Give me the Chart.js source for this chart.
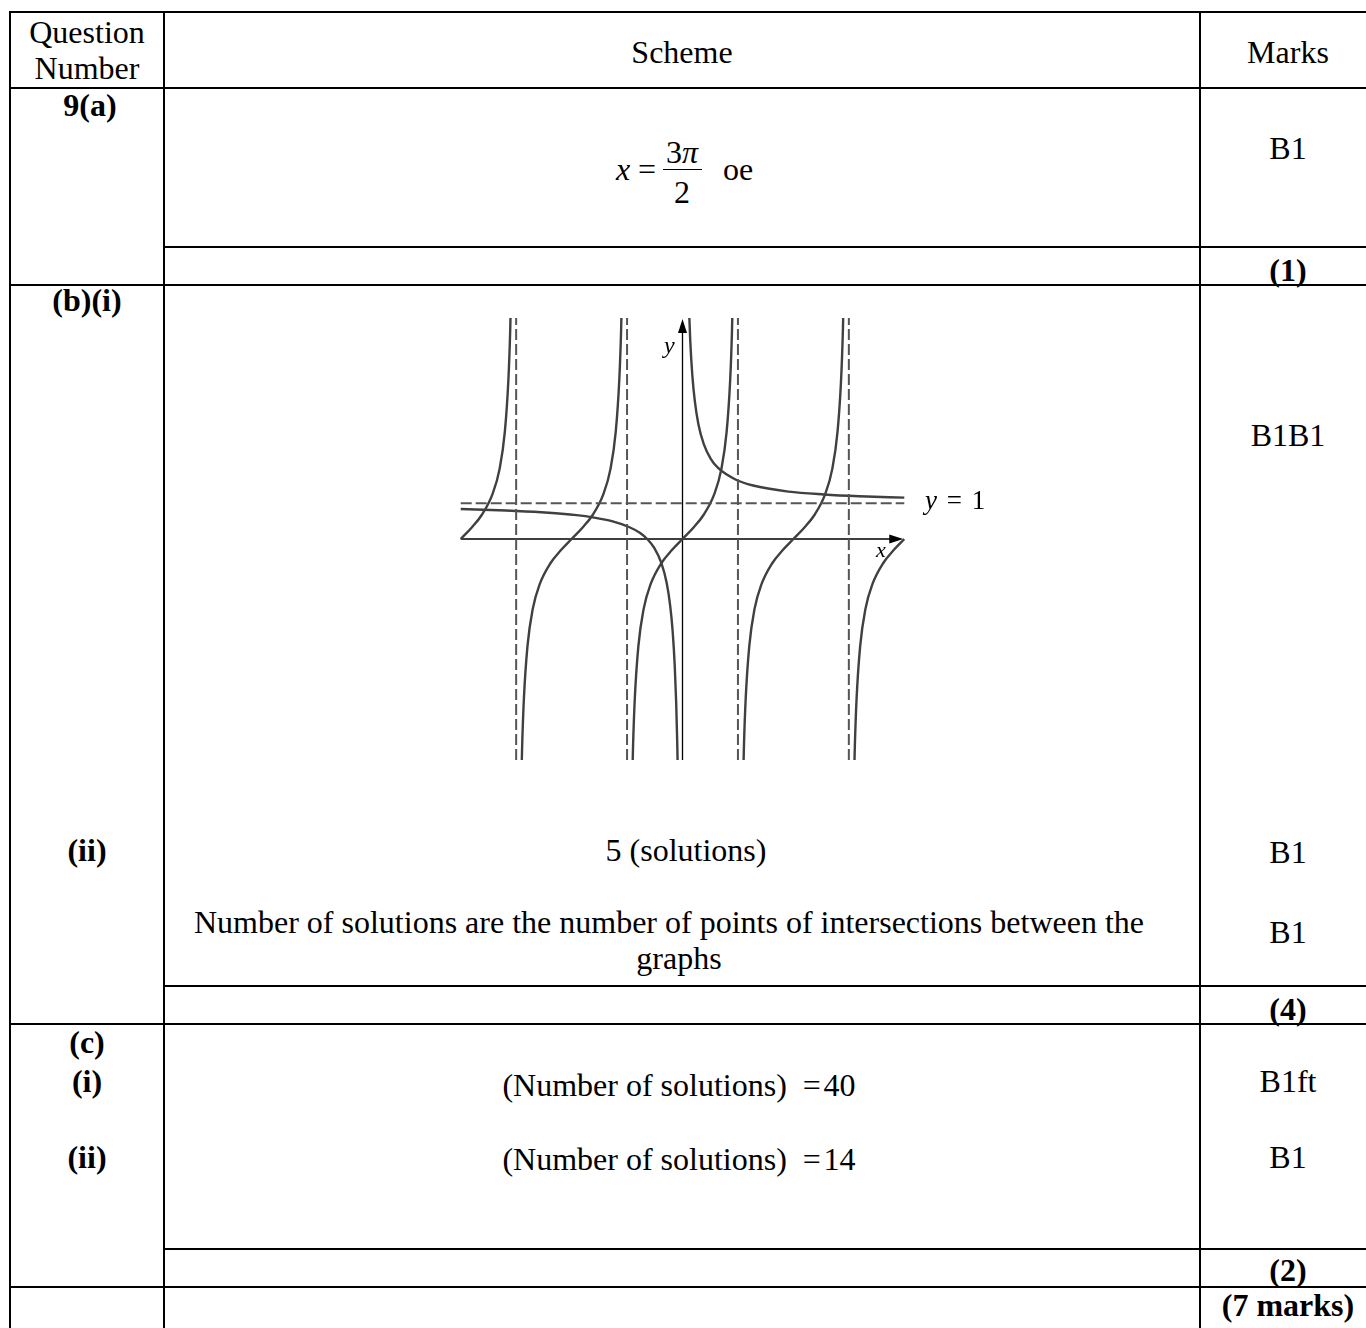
<!DOCTYPE html>
<html>
<head>
<meta charset="utf-8">
<title>Mark scheme 9</title>
<script src="https://cdn.jsdelivr.net/npm/chart.js@4.4.1/dist/chart.umd.min.js"></script>
<style>
  html, body { margin: 0; padding: 0; background: #fff; }
  body {
    width: 1366px; height: 1328px; position: relative; overflow: hidden;
    font-family: "Liberation Serif", "Times New Roman", serif; font-size: 32px; color: #000;
  }
  .t { position: absolute; transform: translate(-50%, -50%); white-space: nowrap; line-height: 0.9; text-align: center; }
  .b { font-weight: bold; }
  .hl { position: absolute; height: 2px; background: #000; }
  .vl { position: absolute; width: 2px; background: #000; }
  #graph { position: absolute; left: 440px; top: 300px; }
  .lab { position: absolute; white-space: nowrap; line-height: 1; }
</style>
</head>
<body>

<!-- table rules -->
<div class="hl" style="left:9px;top:11px;width:1357px"></div>
<div class="hl" style="left:9px;top:87px;width:1357px"></div>
<div class="hl" style="left:163px;top:246px;width:1203px"></div>
<div class="hl" style="left:9px;top:284px;width:1357px"></div>
<div class="hl" style="left:163px;top:985px;width:1203px"></div>
<div class="hl" style="left:9px;top:1023px;width:1357px"></div>
<div class="hl" style="left:163px;top:1248px;width:1203px"></div>
<div class="hl" style="left:9px;top:1286px;width:1357px"></div>
<div class="vl" style="left:9px;top:11px;height:1317px"></div>
<div class="vl" style="left:163px;top:11px;height:1317px"></div>
<div class="vl" style="left:1199px;top:11px;height:1317px"></div>

<!-- header -->
<div class="t" style="left:87px;top:32px">Question</div>
<div class="t" style="left:87px;top:68px">Number</div>
<div class="t" style="left:682px;top:52px">Scheme</div>
<div class="t" style="left:1288px;top:52px">Marks</div>

<!-- (a) -->
<div class="t b" style="left:90px;top:105px">9(a)</div>
<div class="t" style="left:623px;top:169px"><i>x</i></div>
<div class="t" style="left:647px;top:169px">=</div>
<div class="t" style="left:682px;top:152px">3<i>π</i></div>
<div style="position:absolute;left:663px;top:169px;width:39px;height:1px;background:#000"></div>
<div class="t" style="left:682px;top:192px">2</div>
<div class="t" style="left:738px;top:169px">oe</div>
<div class="t" style="left:1288px;top:148px">B1</div>
<div class="t b" style="left:1288px;top:270px">(1)</div>

<!-- (b) -->
<div class="t b" style="left:87px;top:300px">(b)(i)</div>
<div class="t" style="left:1288px;top:435px">B1B1</div>
<canvas id="graph" width="580" height="480"></canvas>
<div class="lab" style="left:664px;top:333px;font-size:24px;font-style:italic">y</div>
<div class="lab" style="left:876px;top:539px;font-size:22px;font-style:italic">x</div>
<div class="lab" style="left:925px;top:487px;font-size:27px;word-spacing:3px"><i>y</i> = 1</div>

<div class="t b" style="left:87px;top:850px">(ii)</div>
<div class="t" style="left:686px;top:850px">5 (solutions)</div>
<div class="t" style="left:1288px;top:852px">B1</div>
<div class="t" style="left:669px;top:922px">Number of solutions are the number of points of intersections between the</div>
<div class="t" style="left:679px;top:958px">graphs</div>
<div class="t" style="left:1288px;top:932px">B1</div>
<div class="t b" style="left:1288px;top:1009px">(4)</div>

<!-- (c) -->
<div class="t b" style="left:87px;top:1042px">(c)</div>
<div class="t b" style="left:87px;top:1081px">(i)</div>
<div class="t" style="left:679px;top:1085px">(Number of solutions)&nbsp;&nbsp;=&#8202;40</div>
<div class="t" style="left:1288px;top:1081px">B1ft</div>
<div class="t b" style="left:87px;top:1157px">(ii)</div>
<div class="t" style="left:679px;top:1159px">(Number of solutions)&nbsp;&nbsp;=&#8202;14</div>
<div class="t" style="left:1288px;top:1157px">B1</div>
<div class="t b" style="left:1288px;top:1270px">(2)</div>
<div class="t b" style="left:1288px;top:1305px">(7 marks)</div>

<script>
// asymptotes and axis extents
const asymptoteX = [-4.71, -1.57, 1.57, 4.71];
const horizAsymptote = 1;
const asymptoteYRange = [-6.2, 6.2];
const horizRange = [-6.28, 6.28];
const axisXRange = [-6.28, 6.25];
const axisYRange = [-6.2, 6.17];

// y = tan x, one branch at a time
const branch1X = [-6.28, -5.98, -5.68, -5.38, -5.18, -5.03, -4.93, -4.88, -4.85];
const branch1Y = [0, 0.31, 0.68, 1.26, 1.96, 3.01, 4.46, 5.80, 7.07];
const branch2X = [-4.57, -4.54, -4.49, -4.39, -4.24, -4.04, -3.74, -3.44, -3.14, -2.84, -2.54, -2.24, -2.04, -1.89, -1.79, -1.74, -1.71];
const branch2Y = [-7.07, -5.80, -4.46, -3.01, -1.96, -1.26, -0.68, -0.31, 0, 0.31, 0.68, 1.26, 1.96, 3.01, 4.46, 5.80, 7.07];
const branch3X = [-1.43, -1.40, -1.35, -1.25, -1.10, -0.90, -0.60, -0.30, 0, 0.30, 0.60, 0.90, 1.10, 1.25, 1.35, 1.40, 1.43];
const branch3Y = [-7.07, -5.80, -4.46, -3.01, -1.96, -1.26, -0.68, -0.31, 0, 0.31, 0.68, 1.26, 1.96, 3.01, 4.46, 5.80, 7.07];
const branch4X = [1.71, 1.74, 1.79, 1.89, 2.04, 2.24, 2.54, 2.84, 3.14, 3.44, 3.74, 4.04, 4.24, 4.39, 4.49, 4.54, 4.57];
const branch4Y = [-7.07, -5.80, -4.46, -3.01, -1.96, -1.26, -0.68, -0.31, 0, 0.31, 0.68, 1.26, 1.96, 3.01, 4.46, 5.80, 7.07];
const branch5X = [4.85, 4.88, 4.93, 5.03, 5.18, 5.38, 5.68, 5.98, 6.28];
const branch5Y = [-7.07, -5.80, -4.46, -3.01, -1.96, -1.26, -0.68, -0.31, 0];

// y = 1 + 1/x
const hypLeftX = [-6.28, -5, -4, -3, -2.5, -2, -1.5, -1.2, -1, -0.8, -0.6, -0.45, -0.35, -0.28, -0.22, -0.18, -0.15, -0.13];
const hypLeftY = [0.84, 0.80, 0.75, 0.67, 0.60, 0.50, 0.33, 0.17, 0, -0.25, -0.67, -1.22, -1.86, -2.57, -3.55, -4.56, -5.67, -6.69];
const hypRightX = [0.13, 0.15, 0.18, 0.22, 0.28, 0.35, 0.45, 0.6, 0.8, 1, 1.5, 2, 3, 4, 5, 6.28];
const hypRightY = [8.69, 7.67, 6.56, 5.55, 4.57, 3.86, 3.22, 2.67, 2.25, 2.0, 1.67, 1.5, 1.33, 1.25, 1.2, 1.16];

const curveColor = '#404040';
const dashColor = '#555';

function pts(xs, ys) {
    return xs.map((x, i) => ({ x: x, y: ys[i] }));
}

function curve(xs, ys) {
    return {
        data: pts(xs, ys),
        showLine: true,
        borderColor: curveColor,
        borderWidth: 2.4,
        pointRadius: 0,
        cubicInterpolationMode: 'monotone',
        fill: false
    };
}

function dashed(data) {
    return {
        data: data,
        showLine: true,
        borderColor: dashColor,
        borderWidth: 2,
        borderDash: [11, 4],
        pointRadius: 0,
        fill: false
    };
}

const datasets = [];
asymptoteX.forEach(a => {
    datasets.push(dashed([{ x: a, y: asymptoteYRange[0] }, { x: a, y: asymptoteYRange[1] }]));
});
datasets.push(dashed([{ x: horizRange[0], y: horizAsymptote }, { x: horizRange[1], y: horizAsymptote }]));
datasets.push(curve(branch1X, branch1Y));
datasets.push(curve(branch2X, branch2Y));
datasets.push(curve(branch3X, branch3Y));
datasets.push(curve(branch4X, branch4Y));
datasets.push(curve(branch5X, branch5Y));
datasets.push(curve(hypLeftX, hypLeftY));
datasets.push(curve(hypRightX, hypRightY));

// x and y axes with arrowheads
const axesPlugin = {
    id: 'axes',
    beforeDatasetsDraw(chart) {
        const ctx = chart.ctx;
        const xs = chart.scales.x, ys = chart.scales.y;
        const x0 = xs.getPixelForValue(0), y0 = ys.getPixelForValue(0);
        const xl = xs.getPixelForValue(axisXRange[0]), xr = xs.getPixelForValue(axisXRange[1]);
        const yb = ys.getPixelForValue(axisYRange[0]), yt = ys.getPixelForValue(axisYRange[1]);
        ctx.save();
        ctx.strokeStyle = '#000';
        ctx.fillStyle = '#000';
        ctx.lineWidth = 1.3;
        ctx.beginPath();
        ctx.moveTo(xl, y0); ctx.lineTo(xr - 10, y0);
        ctx.moveTo(x0, yb); ctx.lineTo(x0, yt + 10);
        ctx.stroke();
        ctx.beginPath();
        ctx.moveTo(xr, y0); ctx.lineTo(xr - 14, y0 - 4.5); ctx.lineTo(xr - 14, y0 + 4.5);
        ctx.closePath(); ctx.fill();
        ctx.beginPath();
        ctx.moveTo(x0, yt); ctx.lineTo(x0 - 4.5, yt + 14); ctx.lineTo(x0 + 4.5, yt + 14);
        ctx.closePath(); ctx.fill();
        ctx.restore();
    }
};

new Chart(document.getElementById('graph').getContext('2d'), {
    type: 'scatter',
    data: { datasets: datasets },
    options: {
        responsive: false,
        animation: false,
        devicePixelRatio: 1,
        layout: { padding: { left: 20, top: 18, right: 115, bottom: 20 } },
        plugins: { legend: { display: false }, tooltip: { enabled: false } },
        scales: {
            x: { type: 'linear', min: -6.3, max: 6.3, display: false },
            y: { type: 'linear', min: -6.2, max: 6.2, display: false }
        }
    },
    plugins: [axesPlugin]
});
</script>
</body>
</html>
